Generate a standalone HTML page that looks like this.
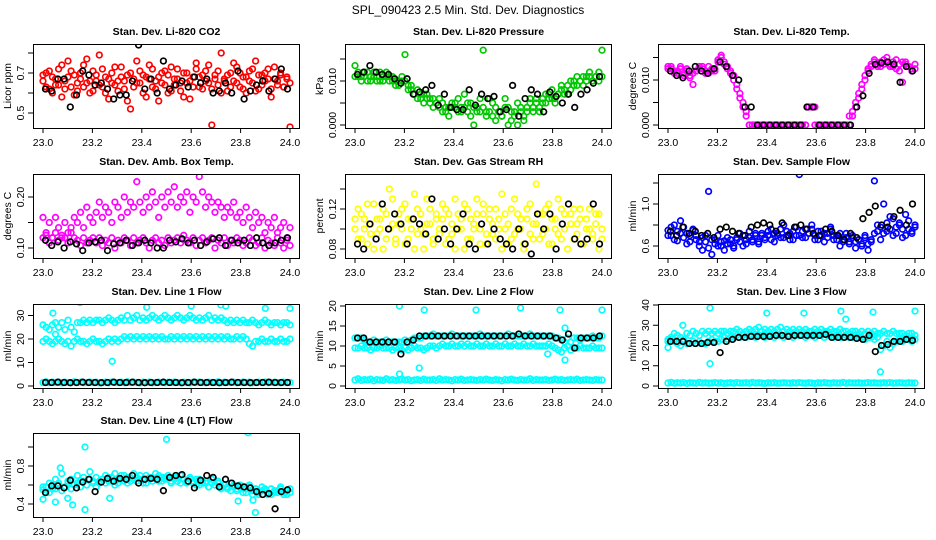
<!DOCTYPE html>
<html><head><meta charset="utf-8"><style>
body{margin:0;background:#fff}
svg{display:block;font-family:"Liberation Sans",sans-serif}
</style></head><body>
<svg id="chart" width="936" height="540" viewBox="0 0 936 540" xmlns="http://www.w3.org/2000/svg">
<text x="468" y="14" text-anchor="middle" font-size="12">SPL_090423  2.5 Min. Std. Dev. Diagnostics</text>
</svg>
<script>
const xTicks=[23.0,23.2,23.4,23.6,23.8,24.0];
const xTickLabels=["23.0","23.2","23.4","23.6","23.8","24.0"];

// P1 CO2
const co2RedA=[0.66,0.70,0.62,0.68,0.64,0.72,0.58,0.66,0.76,0.63,0.69,0.61,0.67,0.74,0.65,0.60,0.71,0.66,0.79,0.63,0.68,0.57,0.70,0.64,0.66,0.73,0.62,0.69,0.52,0.67,0.65,0.71,0.60,0.68,0.74,0.63,0.66,0.56,0.70,0.64,0.69,0.61,0.67,0.72,0.65,0.58,0.70,0.66,0.63,0.75,0.68,0.62,0.71,0.65,0.44,0.69,0.64,0.80,0.67,0.61,0.70,0.66,0.73,0.63,0.68,0.60,0.71,0.65,0.76,0.62,0.69,0.66,0.72,0.58,0.67,0.64,0.70,0.63,0.68,0.43];
const co2RedB=[0.69,0.63,0.71,0.60,0.67,0.64,0.74,0.62,0.68,0.71,0.59,0.65,0.70,0.63,0.77,0.66,0.61,0.69,0.64,0.72,0.60,0.67,0.65,0.73,0.61,0.68,0.66,0.56,0.70,0.63,0.76,0.65,0.69,0.58,0.67,0.72,0.62,0.68,0.65,0.71,0.60,0.73,0.64,0.67,0.61,0.70,0.65,0.57,0.68,0.72,0.63,0.69,0.66,0.74,0.62,0.67,0.71,0.60,0.66,0.69,0.63,0.75,0.65,0.70,0.62,0.68,0.66,0.72,0.61,0.69,0.64,0.70,0.67,0.62,0.73,0.66,0.69,0.63,0.67,0.65];
const co2Black=[0.62,0.61,0.67,0.67,0.53,0.59,0.71,0.69,0.64,0.65,0.62,0.57,0.59,0.59,0.66,0.84,0.62,0.67,0.60,0.76,0.62,0.64,0.66,0.63,0.68,0.65,0.67,0.60,0.61,0.65,0.60,0.71,0.57,0.61,0.64,0.66,0.61,0.67,0.72,0.62];
// P2 pressure
const presGreenA=[0.011,0.012,0.011,0.012,0.010,0.011,0.012,0.011,0.010,0.011,0.012,0.010,0.011,0.009,0.010,0.011,0.010,0.009,0.008,0.007,0.008,0.006,0.007,0.006,0.005,0.006,0.005,0.004,0.005,0.003,0.004,0.005,0.004,0.006,0.003,0.004,0.005,0.002,0.004,0.003,0.006,0.004,0.002,0.003,0.005,0.001,0.003,0.002,0.004,0.000,0.003,0.002,0.005,0.003,0.001,0.004,0.006,0.003,0.005,0.004,0.006,0.005,0.007,0.006,0.005,0.007,0.008,0.007,0.009,0.008,0.010,0.009,0.010,0.011,0.010,0.011,0.010,0.011,0.012,0.011];
const presGreenB=[0.0135,0.011,0.010,0.011,0.012,0.010,0.011,0.010,0.012,0.010,0.011,0.011,0.010,0.010,0.009,0.010,0.016,0.008,0.009,0.007,0.006,0.007,0.005,0.007,0.006,0.004,0.005,0.006,0.003,0.004,0.002,0.004,0.005,0.003,0.004,0.007,0.003,0.005,0.000,0.004,0.003,0.017,0.003,0.006,0.002,0.004,0.003,0.002,0.006,0.004,0.001,0.003,0.000,0.004,0.002,0.003,0.005,0.004,0.006,0.003,0.005,0.007,0.006,0.008,0.006,0.007,0.009,0.008,0.007,0.010,0.009,0.011,0.010,0.009,0.011,0.012,0.010,0.011,0.010,0.017];
const presBlack=[0.0115,0.012,0.0135,0.012,0.0115,0.0115,0.0105,0.0095,0.0105,0.007,0.0075,0.008,0.009,0.0045,0.007,0.004,0.0035,0.0035,0.008,0.0045,0.007,0.006,0.0065,0.003,0.0035,0.009,0.002,0.006,0.008,0.007,0.003,0.0075,0.0065,0.005,0.007,0.004,0.007,0.008,0.0095,0.011];
// P3 temp
const tempMagA=[0.0125,0.013,0.012,0.0115,0.0125,0.011,0.012,0.0105,0.0115,0.012,0.0125,0.013,0.012,0.0115,0.0125,0.012,0.014,0.015,0.0135,0.013,0.012,0.011,0.009,0.007,0.005,0.003,0,0,0,0,0,0,0,0,0,0,0,0,0,0,0,0,0,0,0,0.004,0.004,0.004,0,0,0,0,0,0,0,0,0,0,0,0.002,0.004,0.006,0.008,0.010,0.012,0.013,0.014,0.0135,0.013,0.0145,0.014,0.0135,0.013,0.0145,0.012,0.014,0.0135,0.013,0.0125,0.0135];
const tempMagB=[0.013,0.0125,0.0115,0.012,0.013,0.0115,0.0125,0.011,0.009,0.012,0.013,0.0125,0.0115,0.013,0.012,0.0125,0.0145,0.0155,0.014,0.0125,0.0115,0.010,0.008,0.006,0.004,0.002,0,0,0,0,0,0,0,0,0,0,0,0,0,0,0,0,0,0,0,0.004,0.004,0,0,0,0,0,0,0,0,0,0,0,0.002,0.003,0.005,0.007,0.009,0.011,0.0125,0.0135,0.0145,0.013,0.014,0.0135,0.015,0.013,0.014,0.0125,0.0135,0.0095,0.014,0.013,0.012,0.0125];
const tempBlack=[0.012,0.011,0.0105,0.012,0.013,0.012,0.0115,0.0125,0.014,0.013,0.011,0.010,0.004,0.004,0,0,0,0,0,0,0,0,0.004,0.004,0,0,0,0,0,0,0.004,0.0065,0.0115,0.0135,0.0138,0.014,0.0135,0.0095,0.013,0.012];
// P4 amb box
const ambUpper=[0.16,0.13,0.15,0.12,0.16,0.14,0.12,0.15,0.13,0.14,0.16,0.15,0.17,0.14,0.18,0.16,0.15,0.17,0.19,0.16,0.18,0.17,0.15,0.19,0.18,0.16,0.20,0.17,0.19,0.18,0.23,0.19,0.17,0.20,0.18,0.21,0.19,0.16,0.20,0.18,0.21,0.19,0.22,0.18,0.20,0.19,0.21,0.17,0.20,0.19,0.24,0.21,0.18,0.20,0.19,0.17,0.19,0.18,0.16,0.18,0.17,0.19,0.16,0.17,0.15,0.18,0.16,0.14,0.17,0.15,0.16,0.13,0.15,0.14,0.16,0.13,0.14,0.15,0.12,0.14];
const ambLower=[0.12,0.125,0.11,0.12,0.13,0.115,0.125,0.12,0.11,0.13,0.12,0.115,0.105,0.12,0.11,0.115,0.12,0.11,0.12,0.105,0.115,0.11,0.12,0.10,0.115,0.11,0.12,0.115,0.105,0.12,0.11,0.115,0.12,0.11,0.10,0.115,0.12,0.11,0.115,0.105,0.12,0.11,0.115,0.12,0.11,0.125,0.115,0.11,0.12,0.105,0.115,0.12,0.11,0.115,0.12,0.10,0.115,0.11,0.12,0.105,0.115,0.11,0.12,0.115,0.105,0.11,0.12,0.115,0.105,0.11,0.12,0.10,0.115,0.11,0.105,0.12,0.11,0.10,0.115,0.105];
const ambBlack=[0.115,0.105,0.112,0.10,0.112,0.108,0.095,0.11,0.112,0.115,0.095,0.108,0.11,0.115,0.105,0.11,0.115,0.11,0.10,0.10,0.115,0.112,0.118,0.11,0.115,0.105,0.112,0.118,0.12,0.105,0.115,0.11,0.115,0.105,0.12,0.11,0.105,0.11,0.115,0.12];
// P5 RH
const rhYellowA=[0.10,0.12,0.09,0.11,0.085,0.105,0.125,0.095,0.11,0.08,0.115,0.10,0.13,0.09,0.105,0.12,0.085,0.11,0.10,0.135,0.095,0.115,0.08,0.105,0.12,0.09,0.11,0.10,0.125,0.085,0.115,0.095,0.13,0.10,0.11,0.08,0.12,0.09,0.105,0.115,0.10,0.125,0.085,0.11,0.095,0.12,0.10,0.08,0.115,0.105,0.09,0.13,0.10,0.11,0.085,0.12,0.095,0.105,0.145,0.09,0.115,0.10,0.125,0.085,0.11,0.095,0.12,0.10,0.08,0.115,0.09,0.105,0.12,0.085,0.11,0.10,0.095,0.115,0.08,0.10];
const rhYellowB=[0.11,0.09,0.115,0.10,0.125,0.095,0.08,0.11,0.10,0.12,0.09,0.14,0.105,0.085,0.115,0.10,0.125,0.09,0.11,0.08,0.12,0.10,0.095,0.13,0.105,0.085,0.115,0.095,0.11,0.12,0.09,0.105,0.08,0.115,0.10,0.125,0.09,0.11,0.10,0.13,0.085,0.115,0.095,0.12,0.105,0.09,0.11,0.135,0.10,0.085,0.12,0.095,0.115,0.10,0.08,0.11,0.125,0.09,0.105,0.115,0.095,0.12,0.085,0.11,0.10,0.13,0.09,0.115,0.08,0.105,0.12,0.095,0.11,0.085,0.10,0.12,0.09,0.105,0.115,0.09];
const rhBlack=[0.085,0.08,0.105,0.09,0.125,0.10,0.115,0.105,0.085,0.11,0.105,0.095,0.13,0.09,0.10,0.085,0.10,0.115,0.085,0.08,0.105,0.085,0.10,0.09,0.085,0.08,0.10,0.085,0.075,0.115,0.10,0.115,0.08,0.105,0.125,0.09,0.085,0.09,0.125,0.085];
// P6 sample flow
const sfBlueA=[0.75,0.70,0.80,0.65,0.72,0.78,0.62,0.70,0.75,0.66,0.60,0.68,0.64,0.58,0.66,0.62,0.70,0.60,0.65,0.68,0.62,0.58,0.66,0.64,0.70,0.62,0.68,0.66,0.72,0.64,0.70,0.68,0.74,0.66,0.72,0.70,0.76,0.68,0.74,0.72,0.66,0.78,0.70,0.74,0.68,0.72,0.76,0.70,0.66,0.74,0.72,0.68,0.76,0.70,0.66,0.72,0.64,0.68,0.62,0.70,0.64,0.66,0.60,0.68,0.62,0.66,1.22,0.74,0.78,0.72,0.82,0.76,0.86,0.72,0.80,0.76,0.70,0.84,0.74,0.78];
const sfBlueB=[0.70,0.78,0.66,0.74,0.84,0.68,0.72,0.64,0.76,0.70,0.64,0.56,0.70,1.12,0.52,0.66,0.60,0.64,0.56,0.62,0.66,0.60,0.68,0.72,0.60,0.66,0.74,0.64,0.70,0.62,0.72,0.66,0.70,0.76,0.64,0.72,0.68,0.80,0.70,0.66,0.74,0.70,1.28,0.68,0.76,0.72,0.80,0.66,0.74,0.70,0.64,0.72,0.78,0.66,0.70,0.60,0.66,0.72,0.64,0.68,0.58,0.66,0.62,0.70,0.56,0.64,0.72,0.80,0.66,1.0,0.74,0.88,0.70,0.78,0.82,0.68,0.90,0.76,0.72,0.80];
const sfBlack=[0.74,0.70,0.78,0.72,0.74,0.70,0.72,0.68,0.76,0.78,0.74,0.72,0.70,0.78,0.80,0.82,0.80,0.74,0.82,0.70,0.78,0.80,0.76,0.72,0.70,0.76,0.74,0.70,0.66,0.72,0.68,0.86,0.92,0.98,0.80,0.78,0.88,0.94,0.80,1.00];
// shared low band for line flows
const lowBand=[1.5,1.8,1.4,1.6,1.5,1.7,1.3,1.6,1.5,1.4,1.8,1.5,1.6,1.4,1.5,1.7,1.5,1.6,1.3,1.5,1.6,1.4,1.7,1.5,1.5,1.6,1.4,1.8,1.5,1.6,1.5,1.3,1.6,1.5,1.7,1.4,1.5,1.6,1.5,1.4,1.6,1.5,1.7,1.5,1.4,1.6,1.5,1.3,1.6,1.5,1.7,1.5,1.4,1.6,1.5,1.5,1.8,1.4,1.6,1.5,1.5,1.6,1.4,1.5,1.7,1.5,1.6,1.4,1.5,1.6,1.5,1.7,1.4,1.5,1.6,1.5,1.4,1.6,1.5,1.5];
const lowBlack=[1.5,1.5,1.6,1.5,1.4,1.5,1.6,1.5,1.5,1.4,1.5,1.6,1.5,1.5,1.6,1.5,1.4,1.5,1.5,1.6,1.5,1.5,1.4,1.5,1.6,1.5,1.5,1.5,1.4,1.5,1.6,1.5,1.5,1.4,1.5,1.5,1.6,1.5,1.5,1.5];
// P7 line1
const l1Upper=[26,25,24,26,22,25,27,24,28,25,23,27,27,28,27,28,27,28,28,27,28,29,28,27,28,29,28,30,28,29,30,28,29,28,29,30,29,28,29,30,29,28,29,30,29,28,29,30,29,28,29,28,29,30,28,29,28,29,28,27,28,27,28,27,28,27,27,28,27,26,27,28,27,26,27,27,26,27,27,26];
const l1Middle=[19,20,19,18,19,20,19,18,19,17,19,20,19,19,18,19,20,19,19,18,19,20,19,20,19,20,21,20,21,20,21,20,21,20,21,20,21,20,21,20,20,21,20,21,20,21,20,21,20,21,20,21,20,21,20,21,20,21,20,21,20,20,21,20,21,20,18,17,19,19,20,19,19,20,19,19,20,19,19,20];
const l1OutX=[23.15,23.28,23.42,23.60,23.72,23.74,23.90,24.0,23.04,23.05];
const l1OutY=[35.5,10.5,33.5,34,34.5,34,33,33,31,27];
// P8 line2
const l2Mid=[9.5,9.5,10,9.5,9.5,9,9.5,9.5,10,9.5,9.5,9.5,9,9.5,9.5,9,9.5,9,9.5,10,9.5,9.5,9,9.5,10,10,9.5,10,10.5,10,10,10.5,10,10,10.5,10,10.5,10,10,10.5,10,10,10.5,10,10,10.5,10,10,10.5,10,10,10.5,10,10,10.5,10,10,10.5,10,10,10,10,10.5,10,9.5,9,8.5,9.5,10,9,9.5,9.5,10,9.5,9.5,9.5,10,9.5,9.5,9.5];
const l2Up=[12,12,12,11.5,11,11,11.5,11,11,11,11.5,11,11,11,11,11,11.5,11,11.5,12,12,12,12.5,12.5,12.5,13,12.5,12.5,12.5,12.5,12.5,13,12.5,12.5,12.5,12.5,12.5,12.5,12.5,12.5,13,12.5,12.5,12.5,12.5,12.5,12.5,12.5,12.5,13,12.5,12.5,12.5,12.5,12.5,12.5,13,12.5,12.5,12.5,12.5,12.5,12.5,12.5,12,12,11.5,11,12,11,12,12,11.5,12,12,12,12.5,12,12,12.5];
const l2Black=[12,12,11,11,11,11,11,8,11,11.5,12.5,12.5,12.5,12.5,12.5,12.5,12.5,12.5,12.5,12.5,12.5,12.5,12.5,12.5,12.5,12.5,13,12.5,12.5,12.5,12.5,12.5,12,11.5,13,9.5,12,12,12,12.5];
const l2OutX=[23.18,23.18,23.26,23.28,23.49,23.67,23.83,23.85,23.85,24.0,23.78];
const l2OutY=[20,3,4.5,19,19,19.5,19,6.5,14.5,19,8];
// P9 line3
const l3Up=[23,24,26,25,24,23,26,25,27,26,25,27,26,27,26,27,26,27,27,26,27,27,28,27,26,27,28,27,28,29,27,28,27,28,27,28,29,27,28,27,28,27,28,27,28,27,27,28,27,28,27,27,28,27,27,28,27,27,26,27,27,26,27,26,27,26,27,26,26,27,26,26,27,26,26,26,25,26,26,25];
const l3Mid=[22,23,22,21,20,22,21,21,22,21,22,21,21,22,23,22,22,23,24,23,24,24,25,24,25,24,25,25,24,25,25,24,25,25,24,25,25,24,25,25,24,25,25,25,24,25,25,24,25,25,24,25,25,24,25,24,24,25,24,24,25,24,24,23,24,24,23,24,18,20,22,19,21,22,23,22,23,23,22,23];
const l3Black=[22,22,22,21,21,21,21.5,21.5,16.5,22,23,24,24,24.5,24.5,24.5,24.5,25,25,24.5,25,25,25,25,25,25.5,24,24,24,24,23.5,23,25,17,20,20.5,22,22,23,22.5];
const l3OutX=[23.17,23.17,23.40,23.55,23.70,23.72,23.83,23.86,24.0,23.06,23.0];
const l3OutY=[38.5,11,36,36,37,33,36.5,7,37,30,19];
// P10 line4
const l4A=[0.55,0.58,0.52,0.60,0.56,0.62,0.54,0.58,0.64,0.56,0.60,0.62,0.58,0.64,0.60,0.66,0.62,0.58,0.64,0.66,0.62,0.68,0.64,0.60,0.66,0.70,0.64,0.62,0.68,0.66,0.64,0.70,0.66,0.62,0.68,0.64,0.66,0.70,0.64,0.68,0.66,0.62,0.68,0.64,0.70,0.66,0.62,0.66,0.64,0.60,0.66,0.62,0.64,0.58,0.62,0.60,0.64,0.58,0.60,0.56,0.62,0.58,0.54,0.60,0.56,0.52,0.58,0.54,0.56,0.50,0.54,0.56,0.52,0.50,0.54,0.52,0.56,0.50,0.54,0.52];
const l4B=[0.58,0.52,0.62,0.56,0.66,0.60,0.72,0.58,0.62,0.66,0.60,0.70,0.64,0.68,0.60,0.74,0.64,0.68,0.62,0.66,0.70,0.64,0.68,0.72,0.62,0.66,0.70,0.68,0.64,0.72,0.68,0.66,0.62,0.70,0.66,0.68,0.72,0.64,0.68,0.66,0.70,0.64,0.66,0.68,0.62,0.66,0.64,0.68,0.62,0.66,0.60,0.64,0.62,0.58,0.66,0.60,0.62,0.56,0.60,0.58,0.54,0.60,0.56,0.58,0.52,0.56,0.60,0.50,0.56,0.52,0.58,0.54,0.50,0.56,0.52,0.54,0.58,0.52,0.50,0.56];
const l4Black=[0.52,0.59,0.59,0.57,0.65,0.57,0.63,0.66,0.53,0.63,0.67,0.64,0.67,0.66,0.70,0.62,0.66,0.67,0.66,0.54,0.68,0.70,0.71,0.64,0.57,0.65,0.70,0.68,0.58,0.66,0.62,0.59,0.58,0.57,0.53,0.50,0.51,0.35,0.53,0.55];
const l4OutX=[23.0,23.05,23.07,23.10,23.12,23.17,23.17,23.27,23.50,23.79,23.83,23.86,23.85];
const l4OutY=[0.45,0.42,0.78,0.46,0.39,1.0,0.34,0.46,1.08,0.43,1.15,0.31,0.44];

const NS="http://www.w3.org/2000/svg";
const svg=document.getElementById('chart');
function mk(tag,attrs,parent){const e=document.createElementNS(NS,tag);for(const k in attrs)e.setAttribute(k,attrs[k]);(parent||svg).appendChild(e);return e;}

const panels=[
 {key:'co2',title:'Stan. Dev. Li-820 CO2',ylab:'Licor ppm',col:0,row:0,yv:[0.5,0.7],yp:[113,73],ticks:[0.5,0.6,0.7,0.8],tl:['0.5','','0.7',''],
  series:[[co2RedA,'#ff0000'],[co2RedB,'#ff0000'],[co2Black,'#000']]},
 {key:'pressure',title:'Stan. Dev. Li-820 Pressure',ylab:'kPa',col:1,row:0,yv:[0,0.01],yp:[125,81],ticks:[0,0.005,0.01,0.015],tl:['0.000','','0.010',''],
  series:[[presGreenA,'#00c800'],[presGreenB,'#00c800'],[presBlack,'#000']]},
 {key:'temp',title:'Stan. Dev. Li-820 Temp.',ylab:'degrees C',col:2,row:0,yv:[0,0.01],yp:[125,80],ticks:[0,0.005,0.01,0.015],tl:['0.000','','0.010',''],
  series:[[tempMagA,'#ff00ff'],[tempMagB,'#ff00ff'],[tempBlack,'#000']]},
 {key:'ambbox',title:'Stan. Dev. Amb. Box Temp.',ylab:'degrees C',col:0,row:1,yv:[0.1,0.2],yp:[248,197],ticks:[0.1,0.15,0.2],tl:['0.10','','0.20'],
  series:[[ambUpper,'#ff00ff'],[ambLower,'#ff00ff'],[ambBlack,'#000']]},
 {key:'rh',title:'Stan. Dev. Gas Stream RH',ylab:'percent',col:1,row:1,yv:[0.08,0.12],yp:[249,209],ticks:[0.08,0.10,0.12,0.14],tl:['0.08','','0.12',''],
  series:[[rhYellowA,'#ffff00'],[rhYellowB,'#ffff00'],[rhBlack,'#000']]},
 {key:'sampleflow',title:'Stan. Dev. Sample Flow',ylab:'ml/min',col:2,row:1,yv:[0.6,1.0],yp:[246,204],ticks:[0.6,0.8,1.0,1.2],tl:['0.6','','1.0',''],
  series:[[sfBlueA,'#0000ff'],[sfBlueB,'#0000ff'],[sfBlack,'#000']]},
 {key:'line1',title:'Stan. Dev. Line 1 Flow',ylab:'ml/min',col:0,row:2,yv:[0,10],yp:[386,362.5],ticks:[0,10,20,30],tl:['0','10','20','30'],
  series:[[l1Upper,'#00ffff'],[l1Middle,'#00ffff'],[lowBand,'#00ffff'],[lowBlack,'#000']],out:[l1OutX,l1OutY]},
 {key:'line2',title:'Stan. Dev. Line 2 Flow',ylab:'ml/min',col:1,row:2,yv:[0,20],yp:[386,306],ticks:[0,5,10,15,20],tl:['0','5','10','15','20'],
  series:[[l2Mid,'#00ffff'],[l2Up,'#00ffff'],[lowBand,'#00ffff'],[l2Black,'#000']],out:[l2OutX,l2OutY]},
 {key:'line3',title:'Stan. Dev. Line 3 Flow',ylab:'ml/min',col:2,row:2,yv:[0,40],yp:[386,305],ticks:[0,10,20,30,40],tl:['0','10','20','30','40'],
  series:[[l3Up,'#00ffff'],[l3Mid,'#00ffff'],[lowBand,'#00ffff'],[l3Black,'#000']],out:[l3OutX,l3OutY]},
 {key:'line4',title:'Stan. Dev. Line 4 (LT) Flow',ylab:'ml/min',col:0,row:3,yv:[0.4,0.8],yp:[504,466],ticks:[0.4,0.6,0.8,1.0],tl:['0.4','','0.8',''],
  series:[[l4A,'#00ffff'],[l4B,'#00ffff'],[l4Black,'#000']],out:[l4OutX,l4OutY]}
];
const colLeft=[33,345,658], rowTop=[44,174,304,433], W=267, H=84;

panels.forEach(p=>{
  const L=colLeft[p.col], T=rowTop[p.row], B=T+H;
  const g=mk('g',{});
  
  
  const xs=v=>L+10+(v-23)*247;
  const ys=v=>p.yp[0]+(v-p.yv[0])*(p.yp[1]-p.yp[0])/(p.yv[1]-p.yv[0]);
  const t=mk('text',{x:L+W/2,y:T-9,'text-anchor':'middle','font-size':10.5,'font-weight':'bold'},g);
  t.textContent=p.title;
  
  
  const clip=mk('clipPath',{id:'c'+p.key},g);
  mk('rect',{x:L,y:T,width:W,height:H},clip);
  const pts=mk('g',{'clip-path':'url(#c'+p.key+')',fill:'none','stroke-width':1.7},g);
  
  
  const drawSer=(vals,col,xsArr)=>{
    const n=vals.length;
    vals.forEach((v,i)=>{
      const xv=xsArr?xsArr[i]:(col==='#000'?23.01+i*0.98/(n-1):23+i/(n-1));
      const c=mk('circle',{cx:xs(xv).toFixed(1),cy:ys(v).toFixed(1),r:2.8,stroke:col},pts);
      
      
    });
  };
  p.series.forEach(s=>{ if(s[1]!=='#000') drawSer(s[0],s[1]); });
  if(p.out){ drawSer(p.out[1],'#00ffff',p.out[0]); }
  p.series.forEach(s=>{ if(s[1]==='#000') drawSer(s[0],s[1]); });
  const box=mk('rect',{x:L+0.5,y:T+0.5,width:W-1,height:H,fill:'none',stroke:'#000','stroke-width':1},g);
  
  
  const xa=mk('g',{},g);
  
  
  xTicks.forEach((v,i)=>{
    mk('line',{x1:xs(v),x2:xs(v),y1:B,y2:B+5,stroke:'#000'},xa);
    const tx=mk('text',{x:xs(v),y:B+18,'text-anchor':'middle','font-size':10.5},xa);
    tx.textContent=xTickLabels[i];
    
    
  });
  const ya=mk('g',{},g);
  
  
  p.ticks.forEach((v,i)=>{
    const y=ys(v);
    mk('line',{x1:L-5,x2:L,y1:y,y2:y,stroke:'#000'},ya);
    if(p.tl[i]){
      const tx=mk('text',{x:L-9,y:y,'text-anchor':'middle','font-size':10.5,transform:`rotate(-90 ${L-9} ${y})`},ya);
      tx.textContent=p.tl[i];
      
      
    }
  });
  const yl=mk('text',{x:L-22,y:T+H/2,'text-anchor':'middle','font-size':10.5,transform:`rotate(-90 ${L-22} ${T+H/2})`},g);
  yl.textContent=p.ylab;
  
  
});
</script>
</body></html>
